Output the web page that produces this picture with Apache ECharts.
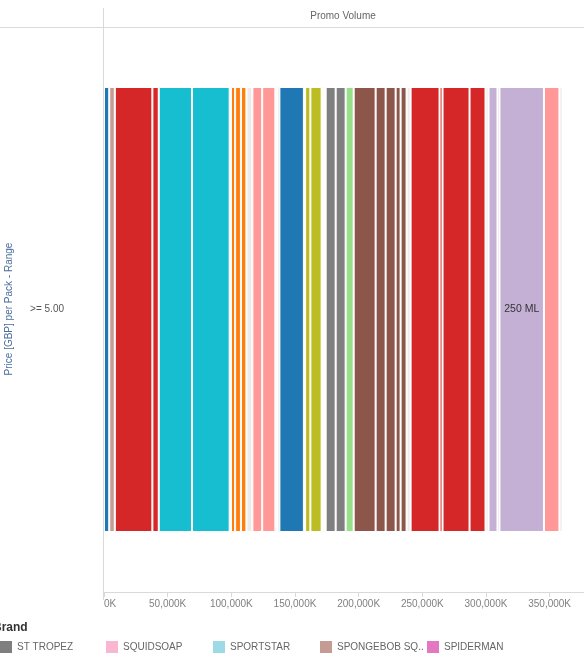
<!DOCTYPE html>
<html>
<head>
<meta charset="utf-8">
<script src="https://cdn.jsdelivr.net/npm/echarts@6/dist/echarts.min.js"></script>
<style>
html,body{margin:0;padding:0;background:#fff;}
#chart{width:584px;height:664px;}
</style>
</head>
<body>
<div id="chart"></div>
<script>
// ---- data ----
const categories = ['>= 5.00'];
const xTickValues = [0, 50000, 100000, 150000, 200000, 250000, 300000, 350000];
// segment values (thousands), left to right
const segmentValues = [4100, 4400, 29500, 5000, 26100, 29600, 1000, 3300, 4550, 4300, 4700, 7700, 10350, 1200, 600, 1350, 19250, 950, 4150, 8850, 1000, 1350, 800, 7850, 7850, 6300, 17250, 7850, 7850, 3900, 4700, 3150, 22750, 2350, 21200, 12550, 2350, 7050, 1550, 34950, 12150, 2500];
// group key of each segment
const segmentGroups = ['g1','g2','g3','g3','g4','g4','g0','g5','g5','g5','g0','g6','g6','g6','g0','g1','g1','g0','g7','g7','g0','g2','g0','g8','g8','g9','g10','g10','g10','g10','g10','g0','g3','g3','g3','g3','g0','g11','g11','g11','g6','g0'];
const segmentLabels = ['','','','','','','','','','','','','','','','','','','','','','','','','','','','','','','','','','','','','','','','250 ML','',''];
const legendBrands = ['ST TROPEZ', 'SQUIDSOAP', 'SPORTSTAR', 'SPONGEBOB SQUAREPANTS', 'SPIDERMAN'];
const yAxisTitle = 'Price [GBP] per Pack - Range';
const xAxisTitle = 'Promo Volume';
const legendTitle = 'Brand';

// ---- styles ----
const groupColors = {
  g0: '#ebebeb', g1: '#1f77b4', g2: '#c49c94', g3: '#d62728', g4: '#17becf',
  g5: '#ff7f0e', g6: '#ff9896', g7: '#bcbd22', g8: '#7f7f7f', g9: '#98df8a',
  g10: '#8c564b', g11: '#c5b0d5'
};
const legendColors = ['#7f7f7f', '#f7b6d2', '#9edae5', '#c49c94', '#e377c2'];
const legendLefts = [0, 106, 213, 320, 427];
const FONT = '"Liberation Sans", Arial, sans-serif';

const chart = echarts.init(document.getElementById('chart'), null, {renderer: 'canvas'});

const series = segmentValues.map((v, i) => ({
  name: 'seg' + i,
  type: 'bar',
  stack: 'total',
  barWidth: 445,
  data: [v],
  itemStyle: {color: groupColors[segmentGroups[i]], borderColor: '#fff', borderWidth: 1},
  label: {
    show: segmentLabels[i] !== '',
    position: 'inside',
    formatter: segmentLabels[i],
    color: '#333',
    fontSize: 10.5,
    fontFamily: FONT
  },
  emphasis: {disabled: true},
  silent: true
}));
legendBrands.forEach((b, i) => {
  series.push({name: b, type: 'bar', stack: 'total', barWidth: 445, data: [], itemStyle: {color: legendColors[i]}});
});

const fmt = v => v.toString().replace(/\B(?=(\d{3})+(?!\d))/g, ',') + 'K';

chart.setOption({
  animation: false,
  backgroundColor: '#fff',
  grid: {left: 104, right: 0, top: 27, bottom: 72, containLabel: false},
  xAxis: {
    type: 'value',
    min: xTickValues[0],
    max: 377000,
    interval: 50000,
    axisLine: {show: true, lineStyle: {color: '#d9d9d9'}},
    axisTick: {show: true, length: 5, lineStyle: {color: '#d9d9d9'}},
    splitLine: {show: false},
    axisLabel: {
      formatter: v => xTickValues.includes(v) ? fmt(v) : '',
      color: '#808080', fontSize: 10, fontFamily: FONT, margin: 7,
      alignMinLabel: 'left', showMaxLabel: false
    }
  },
  yAxis: {
    type: 'category',
    data: categories,
    axisLine: {show: false},
    axisTick: {show: false},
    axisLabel: {color: '#555', fontSize: 10, fontFamily: FONT, margin: 40}
  },
  legend: legendBrands.map((b, i) => ({
    data: [b],
    left: legendLefts[i],
    top: 641,
    padding: 0,
    itemWidth: 12,
    itemHeight: 12,
    icon: 'rect',
    selectedMode: false,
    textStyle: {color: '#666', fontSize: 10, fontFamily: FONT, width: 89, overflow: 'truncate', ellipsis: '..'}
  })),
  graphic: [
    {type: 'line', shape: {x1: 0, y1: 27.5, x2: 584, y2: 27.5}, style: {stroke: '#d9d9d9', lineWidth: 1}, silent: true},
    {type: 'line', shape: {x1: 103.5, y1: 8, x2: 103.5, y2: 600}, style: {stroke: '#d9d9d9', lineWidth: 1}, silent: true},
    {type: 'text', x: 343, y: 16, style: {text: xAxisTitle, fill: '#666', font: '10px ' + FONT, textAlign: 'center', textVerticalAlign: 'middle'}},
    {type: 'text', x: 9, y: 309, rotation: Math.PI / 2, style: {text: yAxisTitle, fill: '#4a6d9c', font: '10px ' + FONT, textAlign: 'center', textVerticalAlign: 'middle'}},
    {type: 'text', x: -7, y: 628, style: {text: legendTitle, fill: '#333', font: 'bold 12px ' + FONT, textAlign: 'left', textVerticalAlign: 'middle'}}
  ],
  series: series
});
</script>
</body>
</html>
